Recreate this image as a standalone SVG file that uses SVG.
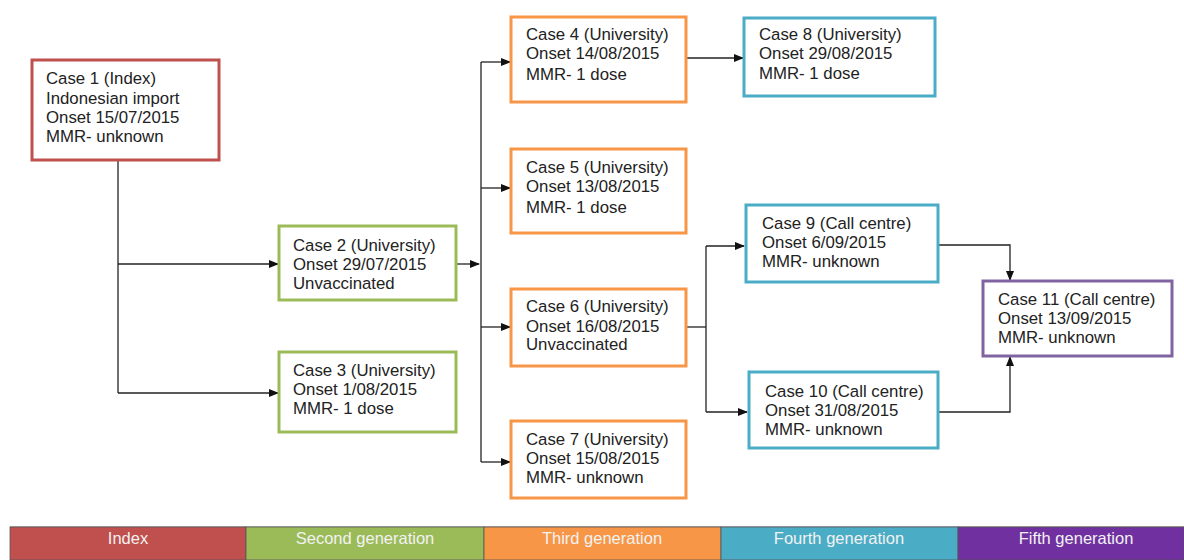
<svg xmlns="http://www.w3.org/2000/svg" width="1184" height="560" viewBox="0 0 1184 560">
<defs>
<style>
.box{fill:#fff;stroke-width:3}
.r{stroke:#c0504d}.g{stroke:#9bbb59}.o{stroke:#f79646}.b{stroke:#4bacc6}.p{stroke:#8064a2}
text{font-family:"Liberation Sans",Arial,sans-serif;font-size:16.8px;fill:#222}
.lg{font-size:16.5px;fill:#f2f2f2;text-anchor:middle}
.c{fill:none;stroke:#222;stroke-width:1.3}
</style>
<marker id="ah" markerWidth="10" markerHeight="8" refX="9" refY="4" orient="auto" markerUnits="userSpaceOnUse">
<path d="M0,0 L10,4 L0,8 z" fill="#111"/>
</marker>
</defs>
<rect width="1184" height="560" fill="#fff"/>
<g id="connectors">
<path class="c" d="M118,160 V393"/>
<path class="c" d="M118,264 H278" marker-end="url(#ah)"/>
<path class="c" d="M118,393 H278" marker-end="url(#ah)"/>
<path class="c" d="M456,264 H479" marker-end="url(#ah)"/>
<path class="c" d="M481,62 V462"/>
<path class="c" d="M481,62 H510" marker-end="url(#ah)"/>
<path class="c" d="M481,188 H510" marker-end="url(#ah)"/>
<path class="c" d="M481,327 H510" marker-end="url(#ah)"/>
<path class="c" d="M481,462 H510" marker-end="url(#ah)"/>
<path class="c" d="M686,58 H743" marker-end="url(#ah)"/>
<path class="c" d="M686,327 H706"/>
<path class="c" d="M706,246 V412"/>
<path class="c" d="M706,246 H744" marker-end="url(#ah)"/>
<path class="c" d="M706,412 H747" marker-end="url(#ah)"/>
<path class="c" d="M938,245 H1010 V280" marker-end="url(#ah)"/>
<path class="c" d="M938,412 H1010 V357" marker-end="url(#ah)"/>
</g>
<g id="case1"><rect class="box r" x="32" y="60" width="187" height="100"/>
<text x="46" y="84">Case 1 (Index)</text><text x="46" y="104">Indonesian import</text><text x="46" y="123">Onset 15/07/2015</text><text x="46" y="142">MMR- unknown</text></g>
<g id="case2"><rect class="box g" x="279" y="226" width="177" height="74"/>
<text x="293" y="251">Case 2 (University)</text><text x="293" y="270">Onset 29/07/2015</text><text x="293" y="289">Unvaccinated</text></g>
<g id="case3"><rect class="box g" x="279" y="352" width="177" height="80"/>
<text x="293" y="376">Case 3 (University)</text><text x="293" y="395">Onset 1/08/2015</text><text x="293" y="414">MMR- 1 dose</text></g>
<g id="case4"><rect class="box o" x="511" y="17" width="175" height="85"/>
<text x="526" y="40">Case 4 (University)</text><text x="526" y="59">Onset 14/08/2015</text><text x="526" y="80">MMR- 1 dose</text></g>
<g id="case5"><rect class="box o" x="511" y="149" width="175" height="84"/>
<text x="526" y="173">Case 5 (University)</text><text x="526" y="192">Onset 13/08/2015</text><text x="526" y="213">MMR- 1 dose</text></g>
<g id="case6"><rect class="box o" x="511" y="289" width="175" height="77"/>
<text x="526" y="312">Case 6 (University)</text><text x="526" y="332">Onset 16/08/2015</text><text x="526" y="350">Unvaccinated</text></g>
<g id="case7"><rect class="box o" x="511" y="421" width="175" height="77"/>
<text x="526" y="445">Case 7 (University)</text><text x="526" y="464">Onset 15/08/2015</text><text x="526" y="483">MMR- unknown</text></g>
<g id="case8"><rect class="box b" x="744" y="18" width="191" height="78"/>
<text x="759" y="40">Case 8 (University)</text><text x="759" y="59">Onset 29/08/2015</text><text x="759" y="79">MMR- 1 dose</text></g>
<g id="case9"><rect class="box b" x="746" y="205" width="192" height="77"/>
<text x="762" y="229">Case 9 (Call centre)</text><text x="762" y="248">Onset 6/09/2015</text><text x="762" y="267">MMR- unknown</text></g>
<g id="case10"><rect class="box b" x="749" y="372" width="189" height="76"/>
<text x="765" y="397">Case 10 (Call centre)</text><text x="765" y="416">Onset 31/08/2015</text><text x="765" y="435">MMR- unknown</text></g>
<g id="case11"><rect class="box p" x="983" y="281" width="189" height="75"/>
<text x="998" y="305">Case 11 (Call centre)</text><text x="998" y="324">Onset 13/09/2015</text><text x="998" y="343">MMR- unknown</text></g>
<g id="legend">
<line x1="10" y1="526.5" x2="1184" y2="526.5" stroke="#bbb" stroke-width="1"/>
<rect x="10" y="527" width="236" height="33" fill="#c0504d" stroke="#555" stroke-width="0.8"/>
<rect x="246" y="527" width="238" height="33" fill="#9bbb59" stroke="#555" stroke-width="0.8"/>
<rect x="484" y="527" width="237" height="33" fill="#f79646" stroke="#555" stroke-width="0.8"/>
<rect x="721" y="527" width="237" height="33" fill="#4bacc6" stroke="#555" stroke-width="0.8"/>
<rect x="958" y="527" width="226" height="33" fill="#7030a0" stroke="#555" stroke-width="0.8"/>
<text class="lg" x="128" y="544">Index</text>
<text class="lg" x="365" y="544">Second generation</text>
<text class="lg" x="602" y="544">Third generation</text>
<text class="lg" x="839" y="544">Fourth generation</text>
<text class="lg" x="1076" y="544">Fifth generation</text>
</g>
</svg>
